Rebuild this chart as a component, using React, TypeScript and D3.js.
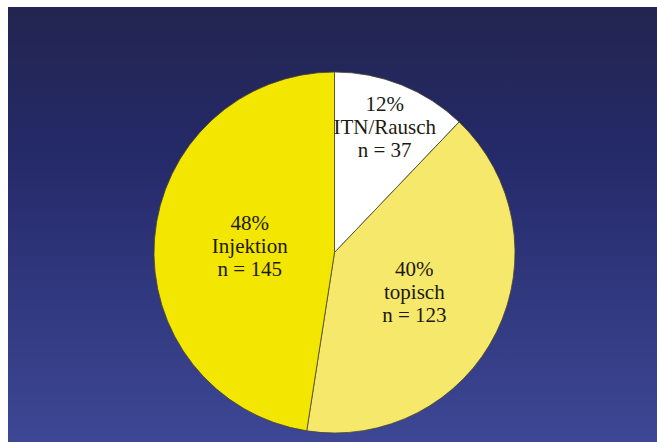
import React from "react";
import * as d3 from "d3";

const categories = ["ITN/Rausch", "topisch", "Injektion"];
const counts = [37, 123, 145];
const percentLabels = ["12%", "40%", "48%"];
const colors = ["#ffffff", "#f6e86a", "#f3e600"];
const labelRadius = [135, 89, 85];

const W = 657;
const H = 442;
const cx = 334.5;
const cy = 252.5;
const R = 180.5;

export default function App() {
  const pie = d3
    .pie<number>()
    .sort(null)
    .value((d) => d)(counts);
  const arc = d3.arc<d3.PieArcDatum<number>>().innerRadius(0).outerRadius(R);

  return (
    <svg
      width={W}
      height={H}
      style={{ position: "absolute", left: 0, top: 0, display: "block" }}
    >
      <defs>
        <linearGradient id="bg" x1="0" y1="0" x2="0" y2="1">
          <stop offset="0%" stopColor="#22254f" />
          <stop offset="35%" stopColor="#252a6a" />
          <stop offset="100%" stopColor="#3d4794" />
        </linearGradient>
      </defs>
      <rect x={0} y={0} width={W} height={H} fill="#ffffff" />
      <rect x={8} y={7} width={W - 8} height={H - 7} fill="url(#bg)" />
      <g transform={`translate(${cx},${cy})`}>
        {pie.map((p, i) => (
          <path
            key={categories[i]}
            d={arc(p) || ""}
            fill={colors[i]}
            stroke="#4a4630"
            strokeWidth={0.8}
          />
        ))}
        {pie.map((p, i) => {
          const mid = (p.startAngle + p.endAngle) / 2;
          const r = labelRadius[i];
          const x = Math.sin(mid) * r;
          const y = -Math.cos(mid) * r;
          return (
            <text
              key={"t" + i}
              x={x}
              y={y}
              textAnchor="middle"
              style={{ fontFamily: "Liberation Serif, serif", fontSize: "21px" }}
              fill="#1c1a12"
            >
              <tspan x={x} dy={-16}>{percentLabels[i]}</tspan>
              <tspan x={x} dy={23}>{categories[i]}</tspan>
              <tspan x={x} dy={23}>{`n = ${counts[i]}`}</tspan>
            </text>
          );
        })}
      </g>
    </svg>
  );
}
